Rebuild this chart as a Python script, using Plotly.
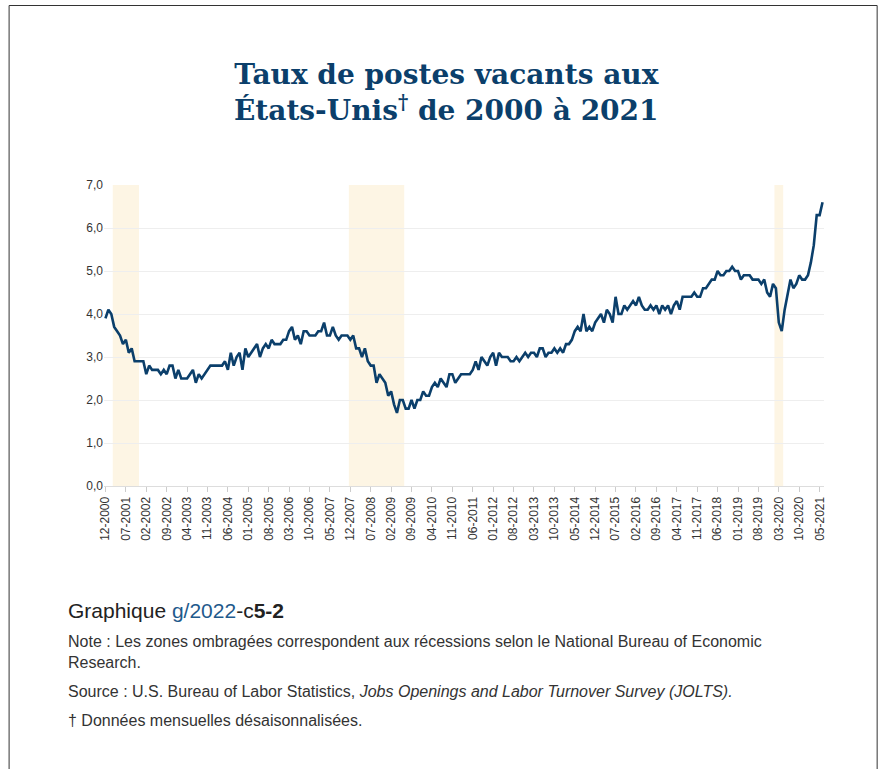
import pandas as pd
import plotly.graph_objects as go

# ---- data ----
start_month = "2000-12-01"
rates = [
    3.9,
    4.1, 4.0, 3.7, 3.6, 3.5, 3.3, 3.4, 3.1, 3.2, 2.9, 2.9, 2.9,   # 2001
    2.9, 2.6, 2.8, 2.7, 2.7, 2.7, 2.6, 2.7, 2.6, 2.8, 2.8, 2.5,   # 2002
    2.7, 2.5, 2.5, 2.5, 2.6, 2.7, 2.4, 2.6, 2.5, 2.6, 2.7, 2.8,   # 2003
    2.8, 2.8, 2.8, 2.8, 2.9, 2.7, 3.1, 2.8, 3.0, 3.1, 2.7, 3.2,   # 2004
    3.0, 3.1, 3.2, 3.3, 3.0, 3.2, 3.3, 3.2, 3.4, 3.3, 3.3, 3.3,   # 2005
    3.4, 3.4, 3.6, 3.7, 3.4, 3.5, 3.3, 3.6, 3.6, 3.5, 3.5, 3.5,   # 2006
    3.6, 3.6, 3.8, 3.5, 3.5, 3.7, 3.5, 3.4, 3.5, 3.5, 3.5, 3.4,   # 2007
    3.5, 3.2, 3.2, 3.0, 3.2, 2.9, 2.8, 2.8, 2.4, 2.6, 2.5, 2.4,   # 2008
    2.1, 2.2, 1.9, 1.7, 2.0, 2.0, 1.8, 1.8, 2.0, 1.8, 2.0, 2.0,   # 2009
    2.2, 2.1, 2.1, 2.3, 2.4, 2.3, 2.5, 2.4, 2.3, 2.6, 2.6, 2.4,   # 2010
    2.5, 2.6, 2.6, 2.6, 2.6, 2.7, 2.9, 2.7, 3.0, 2.9, 2.8, 3.0,   # 2011
    3.1, 2.8, 3.1, 3.0, 3.0, 3.0, 2.9, 2.9, 3.0, 2.9, 3.0, 3.1,   # 2012
    3.0, 3.1, 3.1, 3.0, 3.2, 3.2, 3.0, 3.1, 3.1, 3.2, 3.1, 3.2,   # 2013
    3.1, 3.3, 3.3, 3.4, 3.6, 3.7, 3.6, 4.0, 3.6, 3.7, 3.6, 3.8,   # 2014
    3.9, 4.0, 3.8, 4.1, 4.0, 3.8, 4.4, 4.0, 4.0, 4.2, 4.1, 4.2,   # 2015
    4.3, 4.2, 4.4, 4.2, 4.1, 4.1, 4.2, 4.1, 4.2, 4.0, 4.2, 4.1,   # 2016
    4.2, 4.0, 4.2, 4.3, 4.1, 4.4, 4.4, 4.4, 4.4, 4.5, 4.4, 4.4,   # 2017
    4.6, 4.6, 4.7, 4.8, 4.8, 5.0, 4.9, 4.9, 5.0, 5.0, 5.1, 5.0,   # 2018
    5.0, 4.8, 4.9, 4.9, 4.9, 4.8, 4.8, 4.8, 4.7, 4.8, 4.5, 4.4,   # 2019
    4.7, 4.6, 3.8, 3.6, 4.1, 4.5, 4.8, 4.6, 4.7, 4.9, 4.8, 4.8,   # 2020
    4.9, 5.2, 5.6, 6.3, 6.3, 6.6,                                 # 2021
]
months = list(pd.date_range(start_month, periods=len(rates), freq="MS").strftime("%m-%Y"))
tick_labels = months[::7]
tick_positions = list(range(0, len(months), 7))
# recessions (first and last month, NBER)
recessions = [("03-2001", "11-2001"), ("12-2007", "06-2009"), ("02-2020", "04-2020")]
y_ticks = [0, 1, 2, 3, 4, 5, 6, 7]

title_text = "<b>Taux de postes vacants aux<br>États-Unis<sup>†</sup> de 2000 à 2021</b>"

# ---- layout geometry ----
W, H = 879, 769
ML, MR, MT, MB = 103.5, 54.7, 185, 283
PW, PH = W - ML - MR, H - MT - MB


def px(x):
    return (x - ML) / PW


def py(y):
    return (H - MB - y) / PH


x_idx = list(range(len(months)))

fig = go.Figure()
fig.add_trace(go.Scatter(
    x=x_idx, y=rates, mode="lines",
    line=dict(color="#0b3f6b", width=2.6),
    hoverinfo="skip", showlegend=False,
))

for a, b in recessions:
    i0, i1 = months.index(a), months.index(b)
    fig.add_vrect(x0=i0 - 0.5, x1=i1 + 0.5, fillcolor="#fdf5e4",
                  line_width=0, layer="below")

# outer frame
fig.add_shape(type="rect", xref="paper", yref="paper",
              x0=px(8.5), x1=px(877.5), y0=py(790), y1=py(5.5),
              line=dict(color="#333333", width=1), fillcolor="rgba(0,0,0,0)")

txt_font = "Liberation Sans, Arial, sans-serif"
annotations = [
    dict(x=px(446), y=py(92), text=title_text, xanchor="center", yanchor="middle",
         font=dict(family="DejaVu Serif, serif", size=28, color="#0b3f6b")),
    dict(x=px(65), y=py(610),
         text="Graphique <span style='color:#1f5a8c'>g/2022</span>-c<b>5-2</b>",
         xanchor="left", yanchor="middle",
         font=dict(family=txt_font, size=21, color="#222222")),
    dict(x=px(65), y=py(652),
         text="Note : Les zones ombragées correspondent aux récessions selon le National Bureau of Economic<br>Research.",
         xanchor="left", yanchor="middle", align="left",
         font=dict(family=txt_font, size=16, color="#333333")),
    dict(x=px(65), y=py(691),
         text="Source : U.S. Bureau of Labor Statistics, <i>Jobs Openings and Labor Turnover Survey (JOLTS).</i>",
         xanchor="left", yanchor="middle",
         font=dict(family=txt_font, size=16, color="#333333")),
    dict(x=px(65), y=py(720),
         text="† Données mensuelles désaisonnalisées.",
         xanchor="left", yanchor="middle",
         font=dict(family=txt_font, size=16, color="#333333")),
]
for an in annotations:
    an.update(xref="paper", yref="paper", showarrow=False)

fig.update_layout(
    width=W, height=H,
    margin=dict(l=ML, r=MR, t=MT, b=MB, autoexpand=False),
    paper_bgcolor="white", plot_bgcolor="white",
    separators=", ",
    annotations=annotations,
    font=dict(family=txt_font, color="#333333", size=12),
    xaxis=dict(
        range=[-0.5, len(months) - 0.5],
        tickmode="array", tickvals=tick_positions, ticktext=tick_labels,
        tickangle=-90, tickfont=dict(size=12, color="#333333"),
        showgrid=False, showline=True, linecolor="#dddddd", linewidth=1,
        ticks="outside", ticklen=5, tickcolor="#cccccc", zeroline=False,
    ),
    yaxis=dict(
        range=[0, 7], tickmode="array", tickvals=y_ticks, tickformat=".1f",
        showgrid=True, gridcolor="#eeeeee", gridwidth=1, zeroline=False,
        showline=False, ticks="", tickfont=dict(size=12, color="#333333"),
    ),
)

fig.write_html("out.html", config={"displayModeBar": False},
               post_script="document.body.style.margin='0';")
